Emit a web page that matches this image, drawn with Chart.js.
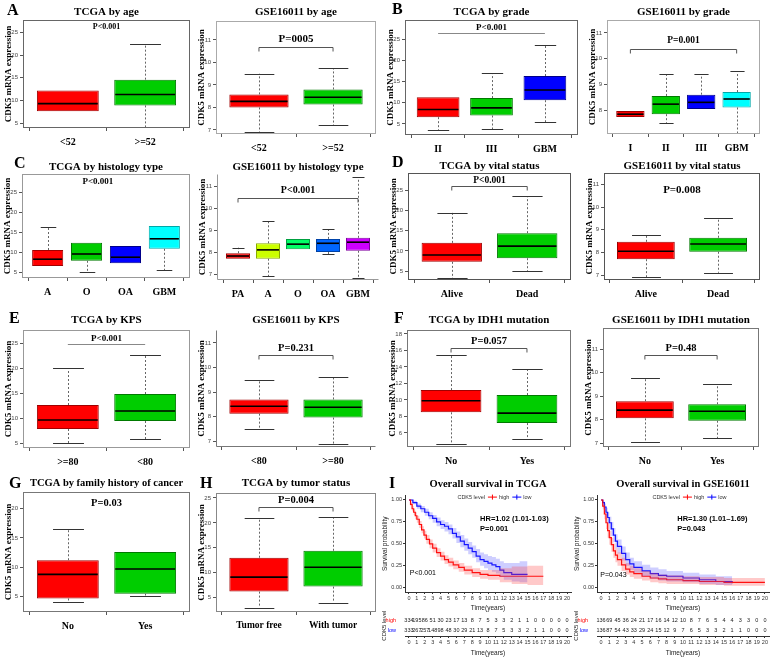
<!DOCTYPE html>
<html><head><meta charset="utf-8">
<script src="https://cdn.jsdelivr.net/npm/chart.js@4.4.0/dist/chart.umd.min.js"></script>
<style>
html,body{margin:0;padding:0;background:#fff;}
#wrap{position:relative;width:771px;height:658px;overflow:hidden;background:#fff;}
.cv{position:absolute;}
.lt{position:absolute;font:bold 16px "Liberation Serif","Times New Roman",serif;color:#000;line-height:16px;}
</style></head><body><div id="wrap"></div>
<script>
// ---------------- DATA ----------------
// box statistics per group: [lower whisker, Q1, median, Q3, upper whisker]
const ageCats = ['<52', '>=52'];
const tcgaAgeStats = [[7.6, 7.6, 9.3, 12.2, 12.2], [3.9, 8.9, 11.3, 14.6, 22.5]];
const gseAgeStats = [[6.9, 8.0, 8.27, 8.58, 9.5], [7.2, 8.13, 8.45, 8.8, 9.75]];
const tcgaGradeCats = ['II', 'III', 'GBM'];
const tcgaGradeStats = [[3.6, 6.6, 8.4, 11.3, 11.3], [3.8, 7.0, 8.8, 11.1, 17.0], [5.4, 10.6, 13.0, 16.3, 23.6]];
const gseGradeCats = ['I', 'II', 'III', 'GBM'];
const gseGradeStats = [[7.73, 7.73, 7.84, 7.96, 7.96], [7.5, 7.84, 8.23, 8.55, 9.4], [8.04, 8.04, 8.3, 8.6, 9.4], [7.1, 8.1, 8.43, 8.7, 9.5]];
const tcgaHistCats = ['A', 'O', 'OA', 'GBM'];
const tcgaHistStats = [[6.5, 6.5, 8.2, 10.5, 16.3], [5.0, 7.8, 9.5, 12.3, 12.3], [7.2, 7.2, 8.7, 11.5, 11.5], [5.5, 10.8, 13.3, 16.5, 16.5]];
const gseHistCats = ['PA', 'A', 'O', 'OA', 'GBM'];
const gseHistStats = [[7.7, 7.7, 7.82, 7.95, 8.2], [6.9, 7.7, 8.1, 8.4, 9.4], [8.13, 8.13, 8.36, 8.6, 8.6], [7.9, 8.0, 8.4, 8.6, 9.05], [6.8, 8.06, 8.45, 8.65, 11.4]];
const vitalCats = ['Alive', 'Dead'];
const tcgaVitalStats = [[3.3, 7.3, 9.0, 12.0, 19.5], [5.0, 8.2, 11.2, 14.4, 23.5]];
const gseVitalStats = [[6.9, 7.7, 8.05, 8.47, 8.78], [7.1, 8.03, 8.37, 8.65, 9.5]];
const tcgaKpsCats = ['>=80', '<80'];
const tcgaKpsStats = [[5.0, 7.8, 9.6, 12.6, 20.0], [5.8, 9.4, 11.4, 14.8, 22.6]];
const gseKpsCats = ['<80', '>=80'];
const gseKpsStats = [[7.5, 8.12, 8.42, 8.7, 9.5], [6.9, 7.96, 8.38, 8.7, 9.6]];
const idhCats = ['No', 'Yes'];
const tcgaIdhStats = [[4.7, 8.5, 9.9, 11.2, 15.4], [5.3, 7.2, 8.4, 10.6, 13.8]];
const gseIdhStats = [[7.05, 8.05, 8.4, 8.78, 9.75], [7.2, 7.95, 8.35, 8.65, 9.5]];
const familyCats = ['No', 'Yes'];
const tcgaFamilyStats = [[4.1, 4.7, 8.8, 11.2, 16.5], [5.2, 5.5, 9.7, 12.6, 12.6]];
const tumorCats = ['Tumor free', 'With tumor'];
const tcgaTumorStats = [[3.0, 6.2, 9.1, 13.0, 20.9], [4.0, 7.2, 11.1, 14.4, 21.1]];

// Kaplan-Meier curves (time in years, survival probability, CI bounds)
const kmGroups = ['high', 'low'];
const tcgaHighT  = [0,0.2,0.4,0.6,0.8,1.0,1.3,1.6,1.9,2.2,2.6,3.0,3.5,4.0,4.5,5.0,5.6,6.3,7.0,8.0,9.0,10.0,11.5,13,15,17];
const tcgaHighS  = [1,0.95,0.9,0.86,0.82,0.78,0.72,0.66,0.6,0.55,0.5,0.45,0.4,0.36,0.32,0.29,0.26,0.23,0.2,0.17,0.15,0.14,0.13,0.13,0.13,0.13];
const tcgaHighUp = [1,0.97,0.93,0.89,0.86,0.82,0.76,0.7,0.65,0.6,0.55,0.5,0.45,0.41,0.37,0.34,0.31,0.28,0.25,0.22,0.2,0.2,0.22,0.24,0.25,0.25];
const tcgaHighLo = [1,0.93,0.87,0.83,0.78,0.74,0.68,0.62,0.56,0.5,0.45,0.4,0.35,0.31,0.27,0.24,0.21,0.18,0.15,0.12,0.1,0.09,0.06,0.04,0.03,0.03];
const tcgaLowT  = [0,0.5,1,1.5,2,2.5,3,3.5,4,4.5,5,5.5,6,6.5,7,7.5,8,8.5,9,9.5,10,10.5,11,11.5,12,13,14,15];
const tcgaLowS  = [1,0.97,0.93,0.9,0.86,0.82,0.79,0.75,0.72,0.7,0.67,0.62,0.58,0.53,0.49,0.45,0.41,0.36,0.32,0.3,0.28,0.26,0.24,0.2,0.17,0.15,0.15,0.15];
const tcgaLowUp = [1,0.99,0.96,0.93,0.9,0.86,0.83,0.8,0.77,0.75,0.72,0.68,0.64,0.6,0.56,0.52,0.48,0.44,0.4,0.38,0.36,0.35,0.33,0.3,0.28,0.28,0.3,0.3];
const tcgaLowLo = [1,0.95,0.9,0.86,0.82,0.78,0.74,0.7,0.67,0.64,0.61,0.56,0.51,0.46,0.42,0.38,0.34,0.29,0.25,0.22,0.2,0.18,0.16,0.12,0.09,0.07,0.06,0.06];
const gseHighT  = [0,0.2,0.4,0.6,0.8,1,1.25,1.5,1.75,2,2.5,3,3.5,4,5,6,7,8,10,12,15,18,20];
const gseHighS  = [1,0.93,0.84,0.74,0.65,0.57,0.49,0.42,0.37,0.32,0.26,0.21,0.18,0.16,0.13,0.11,0.1,0.09,0.08,0.07,0.06,0.06,0.06];
const gseHighUp = [1,0.97,0.9,0.81,0.73,0.65,0.57,0.5,0.45,0.4,0.34,0.28,0.25,0.22,0.19,0.17,0.15,0.14,0.13,0.12,0.11,0.11,0.11];
const gseHighLo = [1,0.89,0.78,0.67,0.57,0.49,0.41,0.34,0.29,0.25,0.19,0.15,0.12,0.1,0.08,0.06,0.05,0.04,0.04,0.03,0.02,0.02,0.02];
const gseLowT  = [0,0.2,0.4,0.6,0.8,1,1.25,1.5,1.75,2,2.5,3,3.5,4,5,6,7,8,10,12,14,16];
const gseLowS  = [1,0.97,0.92,0.86,0.8,0.74,0.67,0.6,0.53,0.47,0.39,0.32,0.27,0.23,0.19,0.16,0.14,0.13,0.11,0.09,0.07,0.05];
const gseLowUp = [1,0.99,0.96,0.91,0.86,0.81,0.75,0.68,0.61,0.55,0.47,0.4,0.34,0.3,0.26,0.23,0.21,0.19,0.17,0.15,0.13,0.11];
const gseLowLo = [1,0.94,0.87,0.8,0.73,0.66,0.59,0.52,0.45,0.39,0.31,0.25,0.2,0.17,0.13,0.1,0.08,0.07,0.06,0.04,0.03,0.02];

// numbers at risk at years 0..20
const riskTimes = [0,1,2,3,4,5,6,7,8,9,10,11,12,13,14,15,16,17,18,19,20];
const tcgaRiskHigh = [334,195,86,51,30,23,17,13,8,7,5,3,3,2,1,1,0,0,0,0,0];
const tcgaRiskLow  = [333,267,257,148,98,48,30,29,21,13,8,7,5,3,3,2,1,1,0,0,0];
const gseRiskHigh  = [136,69,45,36,24,21,17,16,14,12,10,8,7,6,5,4,4,3,3,0,0];
const gseRiskLow   = [136,87,54,43,33,29,24,15,12,9,7,6,5,3,3,2,1,1,0,0,0];

// ---------------- STYLE / LAYOUT ----------------
const SERIF = '"Liberation Serif","Times New Roman",serif';
const SANS = '"Liberation Sans",Arial,sans-serif';
const RED = '#FF0000', GREEN = '#00CD00', BLUE = '#0000FF', CYAN = '#00FFFF';
const RB5 = ['#FF0000', '#CCFF00', '#00FF66', '#0066FF', '#CC00FF'];
const BORDER = {'#FF0000':'#A00000','#00CD00':'#007A00','#0000FF':'#00008A','#00FFFF':'#00A8A8','#CCFF00':'#88AA00','#00FF66':'#00A040','#0066FF':'#0040A0','#CC00FF':'#8000A0'};

const wrap = document.getElementById('wrap');
function mkCanvas(l, t, w, h) {
  const c = document.createElement('canvas');
  c.width = w; c.height = h; c.className = 'cv';
  c.style.left = l + 'px'; c.style.top = t + 'px';
  c.style.width = w + 'px'; c.style.height = h + 'px';
  wrap.appendChild(c); return c;
}
function seg(ctx, xa, ya, xb, yb) { ctx.beginPath(); ctx.moveTo(xa, ya); ctx.lineTo(xb, yb); ctx.stroke(); }

function boxPlugin(p) {
  return {
    id: 'boxwhisk',
    afterDatasetsDraw(chart) {
      const {ctx, chartArea: a, scales: {x, y}} = chart;
      const meta = chart.getDatasetMeta(0);
      ctx.save();
      ctx.beginPath(); ctx.rect(a.left, a.top, a.right - a.left, a.bottom - a.top); ctx.clip();
      p.stats.forEach((s, i) => {
        const el = meta.data[i];
        const cx = Math.round(el.x) + 0.5, w = el.width;
        const yLo = y.getPixelForValue(s[0]), yQ1 = y.getPixelForValue(s[1]), yMd = y.getPixelForValue(s[2]);
        const yQ3 = y.getPixelForValue(s[3]), yHi = y.getPixelForValue(s[4]);
        ctx.lineWidth = 1;
        ctx.strokeStyle = '#666'; ctx.setLineDash([2, 2]);
        if (s[4] > s[3]) seg(ctx, cx, yQ3, cx, yHi);
        if (s[0] < s[1]) seg(ctx, cx, yQ1, cx, yLo);
        ctx.setLineDash([]); ctx.strokeStyle = '#333';
        if (s[4] > s[3]) seg(ctx, cx - w / 4, Math.round(yHi) + 0.5, cx + w / 4, Math.round(yHi) + 0.5);
        if (s[0] < s[1]) seg(ctx, cx - w / 4, Math.round(yLo) + 0.5, cx + w / 4, Math.round(yLo) + 0.5);
        ctx.lineWidth = 1.6; ctx.strokeStyle = '#000';
        seg(ctx, el.x - w / 2 + 1, yMd, el.x + w / 2 - 1, yMd);
      });
      ctx.restore();
      // frame
      ctx.save();
      ctx.strokeStyle = p.fc; ctx.lineWidth = 1;
      const L = Math.round(a.left) + 0.5, R = Math.round(a.right) - 0.5, T = Math.round(a.top) + 0.5, B = Math.round(a.bottom) - 0.5;
      if (p.frame === 'box') { ctx.strokeRect(L, T, R - L, B - T); }
      else { seg(ctx, L, T, L, B); seg(ctx, L, B, R, B); }
      // p-value annotation
      const pv = p.p;
      ctx.fillStyle = '#000'; ctx.font = 'bold ' + pv.size + 'px ' + SERIF;
      ctx.textAlign = 'center'; ctx.textBaseline = 'middle';
      if (pv.kind === 'none') {
        ctx.fillText(pv.text, x.getPixelForValue(pv.x), y.getPixelForValue(pv.y));
      } else {
        const yl = Math.round(y.getPixelForValue(pv.y)) + 0.5;
        const xa = x.getPixelForValue(pv.from), xb = x.getPixelForValue(pv.to);
        ctx.strokeStyle = pv.kind === 'bracket' ? '#555' : '#888';
        seg(ctx, xa, yl, xb, yl);
        if (pv.kind === 'bracket') { seg(ctx, xa, yl, xa, yl + 4); seg(ctx, xb, yl, xb, yl + 4); }
        ctx.fillText(pv.text, (xa + xb) / 2, yl - (pv.dy || 7));
      }
      ctx.restore();
    }
  };
}

function boxPanel(p) {
  const [x0, y0, x1, y1] = p.area;
  const padL = Math.min(30, x0 - 1), padT = 24, padR = 4, padB = 26;
  const left = x0 - padL, top = y0 - padT;
  const cw = Math.round(x1 - x0 + padL + padR), ch = Math.round(y1 - y0 + padT + padB);
  const n = p.cats.length, ext = 0.04 * n;
  const tFont = p.titleSize || 11, lh = tFont * 1.2;
  const tTop = Math.max(0, p.titleY - top - lh / 2);
  const tBot = Math.max(0, padT - lh - tTop);
  const cv = mkCanvas(left, top, cw, ch);
  new Chart(cv, {
    type: 'bar',
    data: {datasets: [{
      data: p.stats.map((s, i) => ({x: i + 1, y: [s[1], s[3]]})),
      backgroundColor: p.colors, borderColor: p.colors.map(c => BORDER[c] || '#333'),
      borderWidth: 1, borderSkipped: false, barPercentage: 0.8, categoryPercentage: 1
    }]},
    options: {
      responsive: false, animation: false, devicePixelRatio: 1, events: [],
      layout: {padding: {left: 0, right: padR, top: 0, bottom: 0}},
      plugins: {
        legend: {display: false}, tooltip: {enabled: false},
        title: {display: true, text: p.title, fullSize: false, color: '#000',
          font: {family: SERIF, size: tFont, weight: 'bold'}, padding: {top: tTop, bottom: tBot}}
      },
      scales: {
        x: {type: 'linear', min: 0.5 - ext, max: n + 0.5 + ext, offset: false,
          afterBuildTicks: s => { s.ticks = p.cats.map((c, i) => ({value: i + 1})); },
          afterFit: s => { s.height = padB; },
          grid: {display: true, drawOnChartArea: false, drawTicks: true, tickLength: 3, color: '#555'},
          border: {display: false},
          ticks: {callback: v => p.cats[Math.round(v) - 1], autoSkip: false, maxRotation: 0, minRotation: 0, padding: 5,
            color: '#000', font: {family: SERIF, size: p.xSize || 10, weight: 'bold'}}},
        y: {min: p.y[0], max: p.y[1],
          afterFit: s => { s.width = padL; },
          ticks: {stepSize: p.y[2], includeBounds: false, padding: 2, color: '#444', font: {family: SANS, size: 6}},
          grid: {display: true, drawOnChartArea: false, drawTicks: true, tickLength: 3, color: '#555'},
          border: {display: false},
          title: {display: true, text: 'CDK5 mRNA expression', color: '#000',
            font: {family: SERIF, size: 9, weight: 'bold'}, padding: {top: Math.max(0, padL - 19.4), bottom: 0}}}
      }
    },
    plugins: [boxPlugin(p)]
  });
}

const boxPanels = [
  {area: [23, 20, 190, 128], title: 'TCGA by age', titleY: 12, cats: ageCats, stats: tcgaAgeStats, colors: [RED, GREEN], y: [3.9, 27.8, 5], frame: 'box', fc: '#666',
   p: {kind: 'none', text: 'P<0.001', y: 26.3, x: 1.5, size: 8}},
  {area: [216, 21, 376, 134], title: 'GSE16011 by age', titleY: 12, cats: ageCats, stats: gseAgeStats, colors: [RED, GREEN], y: [6.82, 11.84, 1], frame: 'box', fc: '#aaa',
   p: {kind: 'bracket', text: 'P=0005', y: 10.69, from: 1, to: 2, size: 11, dy: 8}},
  {area: [405, 20, 578, 135], title: 'TCGA by grade', titleY: 12, cats: tcgaGradeCats, stats: tcgaGradeStats, colors: [RED, GREEN, BLUE], y: [2.4, 29.5, 5], frame: 'box', fc: '#666',
   p: {kind: 'line', text: 'P<0.001', y: 26.4, from: 1, to: 3, size: 9, dy: 6}},
  {area: [607, 20, 760, 134], title: 'GSE16011 by grade', titleY: 12, cats: gseGradeCats, stats: gseGradeStats, colors: [RED, GREEN, BLUE, CYAN], y: [7.07, 11.5, 1], frame: 'box', fc: '#aaa',
   p: {kind: 'bracket', text: 'P=0.001', y: 10.38, from: 1, to: 4, size: 9.5, dy: 9}},
  {area: [22, 174, 190, 278], title: 'TCGA by histology type', titleY: 167, cats: tcgaHistCats, stats: tcgaHistStats, colors: [RED, GREEN, BLUE, CYAN], y: [3.5, 29.5, 5], frame: 'box', fc: '#999',
   p: {kind: 'none', text: 'P<0.001', y: 27.5, x: 2.29, size: 9}},
  {area: [217, 174, 379, 280], title: 'GSE16011 by histology type', titleY: 167, cats: gseHistCats, stats: gseHistStats, colors: RB5, y: [6.73, 11.55, 1], frame: 'L', fc: '#999',
   p: {kind: 'bracket', text: 'P<0.001', y: 10.45, from: 1, to: 5, size: 10, dy: 8}},
  {area: [408, 172, 571, 280], title: 'TCGA by vital status', titleY: 166, cats: vitalCats, stats: tcgaVitalStats, colors: [RED, GREEN], y: [2.8, 29.4, 5], frame: 'box', fc: '#555',
   p: {kind: 'bracket', text: 'P<0.001', y: 26, from: 1, to: 2, size: 9.5, dy: 6}},
  {area: [604, 172, 760, 280], title: 'GSE16011 by vital status', titleY: 166, cats: vitalCats, stats: gseVitalStats, colors: [RED, GREEN], y: [6.78, 11.53, 1], frame: 'box', fc: '#555',
   p: {kind: 'none', text: 'P=0.008', y: 10.74, x: 1.5, size: 11}},
  {area: [23, 330, 190, 448], title: 'TCGA by KPS', titleY: 320, cats: tcgaKpsCats, stats: tcgaKpsStats, colors: [RED, GREEN], y: [4, 27.6, 5], frame: 'box', fc: '#999',
   p: {kind: 'line', text: 'P<0.001', y: 24.8, from: 1, to: 2, size: 9, dy: 6}},
  {area: [216, 330, 376, 447], title: 'GSE16011 by KPS', titleY: 320, cats: gseKpsCats, stats: gseKpsStats, colors: [RED, GREEN], y: [6.76, 11.53, 1], frame: 'L', fc: '#777',
   p: {kind: 'bracket', text: 'P=0.231', y: 10.51, from: 1, to: 2, size: 10.5, dy: 7}},
  {area: [407, 330, 571, 447], title: 'TCGA by IDH1 mutation', titleY: 320, cats: idhCats, stats: tcgaIdhStats, colors: [RED, GREEN], y: [4.3, 18.48, 2], frame: 'box', fc: '#777',
   p: {kind: 'bracket', text: 'P=0.057', y: 16.3, from: 1, to: 2, size: 10.5, dy: 7}},
  {area: [603, 328, 759, 447], title: 'GSE16011 by IDH1 mutation', titleY: 320, cats: idhCats, stats: gseIdhStats, colors: [RED, GREEN], y: [6.83, 11.9, 1], frame: 'box', fc: '#777',
   p: {kind: 'bracket', text: 'P=0.48', y: 10.74, from: 1, to: 2, size: 10.5, dy: 7}},
  {area: [23, 492, 190, 612], title: 'TCGA by family history of cancer', titleY: 483, titleSize: 10.5, cats: familyCats, stats: tcgaFamilyStats, colors: [RED, GREEN], y: [2.4, 22.8, 5], frame: 'box', fc: '#777',
   p: {kind: 'none', text: 'P=0.03', y: 20.9, x: 1.5, size: 10.5}},
  {area: [216, 493, 376, 612], title: 'TCGA by tumor status', titleY: 483, cats: tumorCats, stats: tcgaTumorStats, colors: [RED, GREEN], y: [2.1, 26, 5], frame: 'box', fc: '#888', xSize: 9.5,
   p: {kind: 'bracket', text: 'P=0.004', y: 23.2, from: 1, to: 2, size: 10.5, dy: 7}}
];
boxPanels.forEach(boxPanel);

// ---------------- Kaplan-Meier ----------------
function kmPlugin(k) {
  return {
    id: 'kmtext',
    afterDraw(chart) {
      const {ctx, chartArea: a, scales: {x, y}} = chart;
      ctx.save();
      ctx.font = '5.5px ' + SANS; ctx.textBaseline = 'middle';
      const items = [{t: 'CDK5 level', c: null}].concat(kmGroups.map((g, i) => ({t: g, c: k.colors[i]})));
      const keyW = 9, gap = 3;
      let total = 0;
      items.forEach(it => { total += ctx.measureText(it.t).width + gap + (it.c ? keyW + 2 : 0); });
      let cx = (a.left + a.right) / 2 - total / 2 + 8;
      const ly = a.top + 1.5;
      items.forEach(it => {
        if (it.c) {
          ctx.strokeStyle = it.c; ctx.lineWidth = 1;
          seg(ctx, cx, ly, cx + keyW, ly); seg(ctx, cx + keyW / 2, ly - 2.5, cx + keyW / 2, ly + 2.5);
          cx += keyW + 2;
        }
        ctx.fillStyle = '#333'; ctx.textAlign = 'left'; ctx.fillText(it.t, cx, ly);
        cx += ctx.measureText(it.t).width + gap;
      });
      ctx.fillStyle = '#000'; ctx.textAlign = 'left';
      ctx.font = 'bold 7.5px ' + SANS;
      ctx.fillText(k.hr, x.getPixelForValue(k.hrX), y.getPixelForValue(k.hrY));
      ctx.fillText(k.p2, x.getPixelForValue(k.hrX), y.getPixelForValue(k.hrY - 0.115));
      ctx.font = '7px ' + SANS;
      ctx.fillText(k.pLog, x.getPixelForValue(k.pX), y.getPixelForValue(k.pY));
      ctx.restore();
    }
  };
}

function kmPanel(k) {
  const [x0, y0, x1, y1] = k.area;
  const padL = 24, padR = 3, padB = 20, top = 476, padT = y0 - top;
  const cv = mkCanvas(x0 - padL, top, Math.round(x1 - x0 + padL + padR), Math.round(y1 - top + padB));
  const pts = (T, V) => T.map((t, i) => ({x: t, y: V[i]}));
  const band = (T, V, fill, bg) => ({data: pts(T, V), stepped: true, borderColor: 'rgba(0,0,0,0)', borderWidth: 0, pointRadius: 0, fill: fill, backgroundColor: bg});
  new Chart(cv, {
    type: 'line',
    data: {datasets: [
      band(k.hT, k.hUp, false, 'rgba(0,0,0,0)'),
      band(k.hT, k.hLo, '-1', 'rgba(255,60,60,0.28)'),
      band(k.lT, k.lUp, false, 'rgba(0,0,0,0)'),
      band(k.lT, k.lLo, '-1', 'rgba(80,80,255,0.28)'),
      {label: kmGroups[0], data: pts(k.hT, k.hS), stepped: true, borderColor: k.colors[0], borderWidth: 1.2, pointRadius: 0, fill: false},
      {label: kmGroups[1], data: pts(k.lT, k.lS), stepped: true, borderColor: k.colors[1], borderWidth: 1.2, pointRadius: 0, fill: false}
    ]},
    options: {
      responsive: false, animation: false, devicePixelRatio: 1, events: [],
      layout: {padding: {left: 0, right: padR, top: 0, bottom: 0}},
      plugins: {
        legend: {display: false}, tooltip: {enabled: false},
        title: {display: true, text: k.title, fullSize: false, color: '#000', font: {family: SERIF, size: 10.5, weight: 'bold'},
          padding: {top: 484 - top - 6.3, bottom: padT - 12.6 - (484 - top - 6.3)}}
      },
      scales: {
        x: {type: 'linear', min: -0.5, max: 20.5,
          afterBuildTicks: s => { s.ticks = riskTimes.map(v => ({value: v})); },
          afterFit: s => { s.height = padB; },
          ticks: {autoSkip: false, maxRotation: 0, padding: 1, color: '#333', font: {family: SANS, size: 5.5}},
          grid: {display: true, drawOnChartArea: false, tickLength: 2, color: '#333'},
          border: {display: true, color: '#333'},
          title: {display: true, text: 'Time(years)', color: '#222', font: {family: SANS, size: 6.5}, padding: 0}},
        y: {min: -0.05, max: 1.05,
          afterBuildTicks: s => { s.ticks = [0, 0.25, 0.5, 0.75, 1].map(v => ({value: v})); },
          afterFit: s => { s.width = padL; },
          ticks: {callback: v => v.toFixed(2), padding: 1, color: '#333', font: {family: SANS, size: 5.5}},
          grid: {display: true, drawOnChartArea: false, tickLength: 2, color: '#333'},
          border: {display: true, color: '#333'},
          title: {display: true, text: 'Survival probability', color: '#222', font: {family: SANS, size: 6.5}, padding: {top: 0, bottom: 0}}}
      }
    },
    plugins: [kmPlugin(k)]
  });
}

function riskPlugin(k) {
  return {
    id: 'risknums',
    afterDatasetsDraw(chart) {
      const {ctx} = chart;
      ctx.save();
      ctx.font = '5.5px ' + SANS; ctx.fillStyle = '#222'; ctx.textAlign = 'center'; ctx.textBaseline = 'middle';
      [k.rH, k.rL].forEach((vals, di) => {
        const meta = chart.getDatasetMeta(di);
        meta.data.forEach((pt, i) => ctx.fillText(String(vals[i]), pt.x, pt.y));
      });
      ctx.restore();
    }
  };
}

function riskPanel(k) {
  const [x0, , x1] = k.area;
  const y0 = 615, y1 = 636, padL = 24, padR = 3, padB = 21, top = 611;
  const cv = mkCanvas(x0 - padL, top, Math.round(x1 - x0 + padL + padR), Math.round(y1 - top + padB));
  new Chart(cv, {
    type: 'scatter',
    data: {datasets: kmGroups.map(g => ({label: g, data: riskTimes.map(t => ({x: t, y: g})), pointRadius: 0}))},
    options: {
      responsive: false, animation: false, devicePixelRatio: 1, events: [],
      layout: {padding: {left: 0, right: padR, top: y0 - top, bottom: 0}},
      plugins: {legend: {display: false}, tooltip: {enabled: false}},
      scales: {
        x: {type: 'linear', min: -0.5, max: 20.5,
          afterBuildTicks: s => { s.ticks = riskTimes.map(v => ({value: v})); },
          afterFit: s => { s.height = padB; },
          ticks: {autoSkip: false, maxRotation: 0, padding: 1, color: '#333', font: {family: SANS, size: 5.5}},
          grid: {display: true, drawOnChartArea: false, tickLength: 2, color: '#333'},
          border: {display: true, color: '#333'},
          title: {display: true, text: 'Time(years)', color: '#222', font: {family: SANS, size: 6.5}, padding: 0}},
        y: {type: 'category', labels: kmGroups, offset: true,
          afterFit: s => { s.width = padL; },
          ticks: {padding: 1, font: {family: SANS, size: 5.5}, color: c => c.index === 0 ? '#FF0000' : '#0000FF'},
          grid: {display: false}, border: {display: false},
          title: {display: true, text: 'CDK5 level', color: '#222', font: {family: SANS, size: 6}, padding: {top: 0, bottom: 0}}}
      }
    },
    plugins: [riskPlugin(k)]
  });
}

const kmPanels = [
  {area: [405, 495.6, 571, 592.4], title: 'Overall survival in TCGA', colors: ['#FF0000', '#0000FF'],
   hT: tcgaHighT, hS: tcgaHighS, hUp: tcgaHighUp, hLo: tcgaHighLo, lT: tcgaLowT, lS: tcgaLowS, lUp: tcgaLowUp, lLo: tcgaLowLo,
   hr: 'HR=1.02 (1.01-1.03)', p2: 'P=0.001', hrX: 9.0, hrY: 0.78, pLog: 'P<0.001', pX: 0.1, pY: 0.17,
   rH: tcgaRiskHigh, rL: tcgaRiskLow},
  {area: [597, 495.6, 769, 592.4], title: 'Overall survival in GSE16011', colors: ['#FF0000', '#0000FF'],
   hT: gseHighT, hS: gseHighS, hUp: gseHighUp, hLo: gseHighLo, lT: gseLowT, lS: gseLowS, lUp: gseLowUp, lLo: gseLowLo,
   hr: 'HR=1.30 (1.01\u20131.69)', p2: 'P=0.043', hrX: 9.3, hrY: 0.78, pLog: 'P=0.043', pX: -0.1, pY: 0.14,
   rH: gseRiskHigh, rL: gseRiskLow}
];
kmPanels.forEach(k => { kmPanel(k); riskPanel(k); });

// panel letters
[['A', 12, 10], ['B', 397, 9], ['C', 19, 163], ['D', 397, 162], ['E', 14, 318], ['F', 399, 318], ['G', 14, 483], ['H', 205, 483], ['I', 394, 483]]
  .forEach(([t, cx, cy]) => {
    const d = document.createElement('div'); d.className = 'lt'; d.textContent = t;
    d.style.left = (cx - 5) + 'px'; d.style.top = (cy - 8) + 'px'; wrap.appendChild(d);
  });
</script></body></html>
